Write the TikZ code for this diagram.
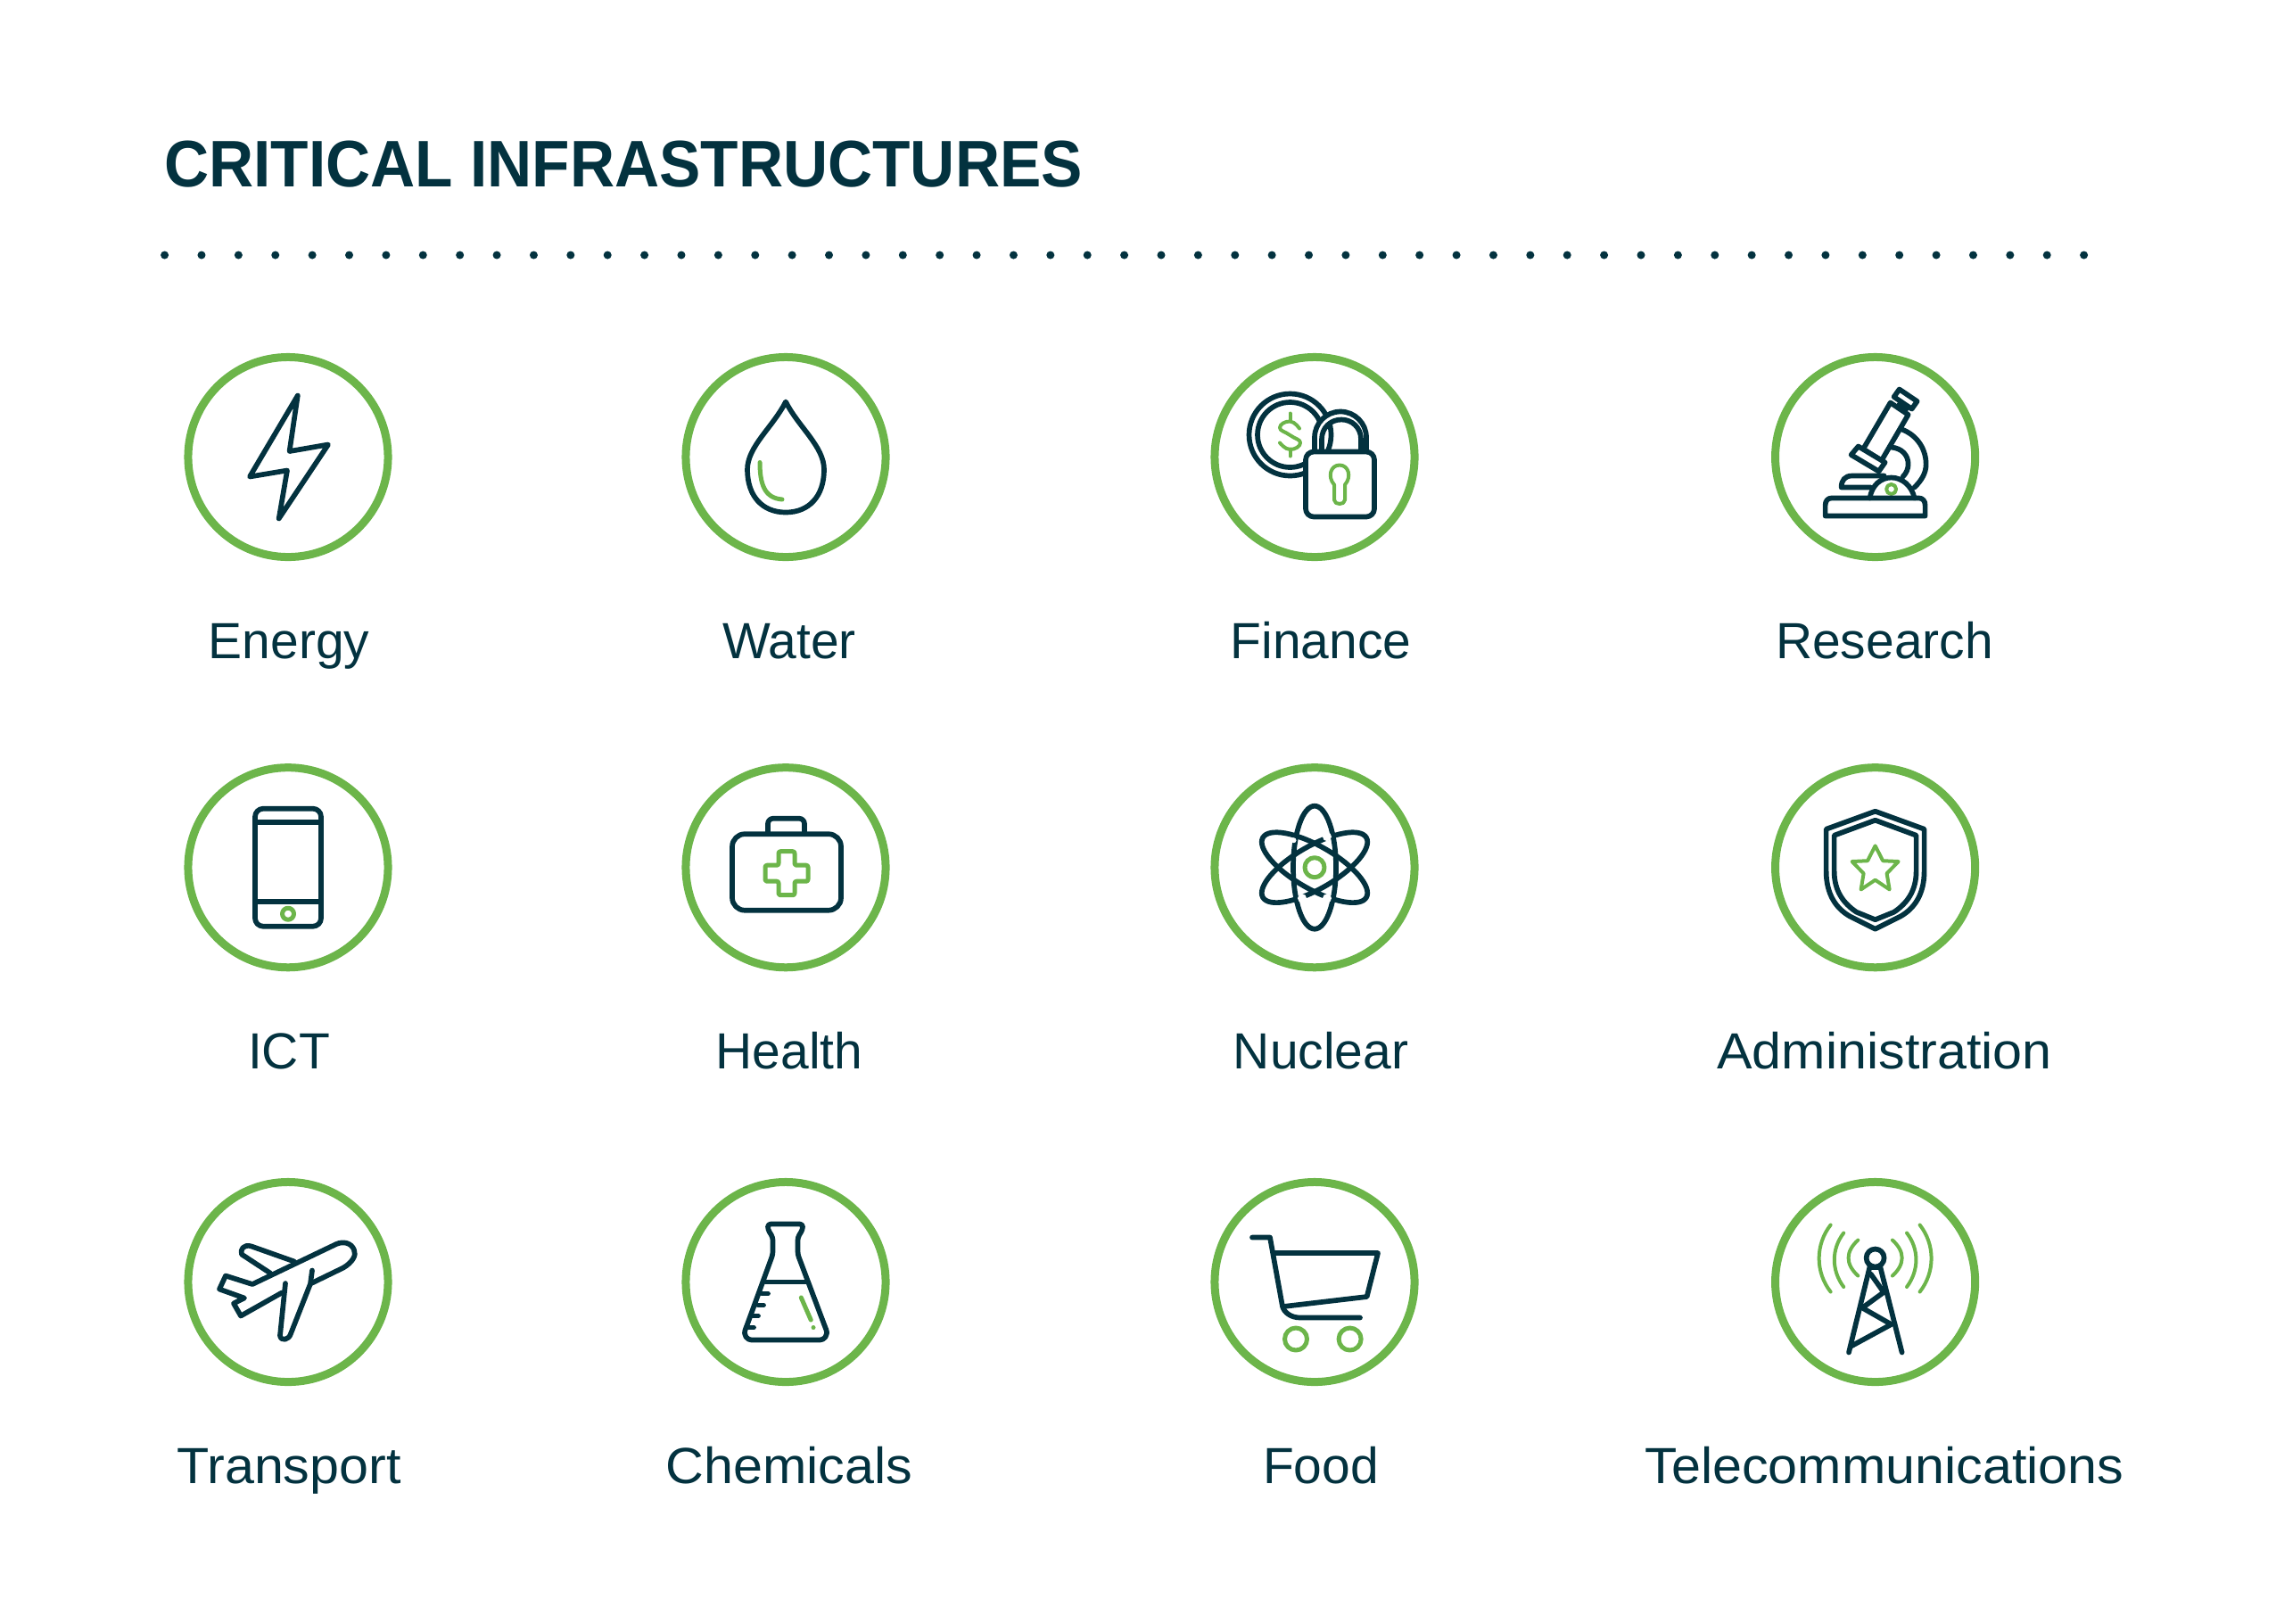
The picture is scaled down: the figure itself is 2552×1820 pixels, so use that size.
\documentclass[tikz,border=0pt]{standalone}
\usepackage{fontspec}
\setmainfont{Liberation Sans}
\newfontfamily\titlefont[FakeStretch=0.94]{Liberation Sans}
\newfontfamily\widefont[FakeStretch=1.04]{Liberation Sans}
\usepackage{tikz}
\definecolor{inkblue}{HTML}{03323F}
\definecolor{leafgreen}{HTML}{6CB54A}
\tikzset{
    ring/.style={draw=leafgreen,circle,line width=0.09cm,minimum size=2.24cm,inner sep=0},
    lab/.style={text=inkblue,anchor=base,inner sep=0,font=\fontsize{16.2pt}{18pt}\selectfont},
    widelab/.style={lab,font=\widefont\fontsize{16.2pt}{18pt}\selectfont},
    ink/.style={draw=inkblue,line width=0.057cm,line join=round,line cap=round},
    leaf/.style={draw=leafgreen,line width=0.05cm,line join=round,line cap=round},
    thinleaf/.style={leaf,line width=0.04cm}
}
\begin{document}
\begin{tikzpicture}[x=0.01cm,y=-0.01cm]
    \useasboundingbox (0,0) rectangle (2552,1820);
    \node[anchor=base west,inner sep=0,text=inkblue,font=\titlefont\bfseries\fontsize{21pt}{24pt}\selectfont] (title) at (183.5,209) {CRITICAL INFRASTRUCTURES};
    \coordinate (dotsL) at (184.6,286);
    \coordinate (dotsR) at (2340,286);
    \draw[inkblue,line width=0.09cm,line cap=round,dash pattern=on 0pt off 0.4136cm] (dotsL) -- (dotsR);

    \node[ring] (energy) at (323,512.5) {};
    \node[ring] (water) at (881,512.5) {};
    \node[ring] (finance) at (1474,512.5) {};
    \node[ring] (research) at (2102.6,512.5) {};
    \node[ring] (ict) at (323,972.7) {};
    \node[ring] (health) at (881,972.7) {};
    \node[ring] (nuclear) at (1474,972.7) {};
    \node[ring] (admin) at (2102.6,972.7) {};
    \node[ring] (transport) at (323,1437.5) {};
    \node[ring] (chemicals) at (881,1437.5) {};
    \node[ring] (food) at (1474,1437.5) {};
    \node[ring] (telecom) at (2102.6,1437.5) {};

    \node[lab] (energylab) at (324,738) {Energy};
    \node[lab] (waterlab) at (885,738) {Water};
    \node[lab] (financelab) at (1481,738) {Finance};
    \node[lab] (researchlab) at (2113,738) {Research};
    \node[lab] (ictlab) at (324,1198) {ICT};
    \node[lab] (healthlab) at (885,1198) {Health};
    \node[lab] (nuclearlab) at (1481,1198) {Nuclear};
    \node[widelab] (adminlab) at (2113,1198) {Administration};
    \node[widelab] (transportlab) at (324,1663) {Transport};
    \node[widelab] (chemicalslab) at (885,1663) {Chemicals};
    \node[lab] (foodlab) at (1481,1663) {Food};
    \node[widelab] (telecomlab) at (2113,1663) {Telecommunications};

    % energy
    \begin{scope}[shift={(energy)}]
        \draw[ink] (10.8,-69) -- (1.6,-6.5) -- (45,-14) -- (-10.3,69) -- (-1,15) -- (-43,22) -- cycle;
    \end{scope}
    % water
    \begin{scope}[shift={(water)}]
        \draw[ink] (0,-62) .. controls (14,-34) and (43,-12) .. (43,14) .. controls (43,44) and (26,62) .. (0,62) .. controls (-26,62) and (-43,44) .. (-43,14) .. controls (-43,-12) and (-14,-34) .. cycle;
        \draw[leaf] (-29,6) .. controls (-29,30) and (-24,46) .. (-4,47.5);
    \end{scope}
    % finance
    \begin{scope}[shift={(finance)}]
        \draw[ink] (-27.5,-25) circle[radius=36.5];
        \draw[ink] (-27.5,-25) circle[radius=46];
        \fill[white] (0,-7) -- (0,-22) .. controls (0,-38) and (13,-51) .. (29,-51) .. controls (45,-51) and (58,-38) .. (58,-22) -- (58,-7) -- cycle;
        \begin{scope}
            \clip (8,-7) -- (8,-20) .. controls (8,-33) and (18,-42) .. (30,-42) .. controls (42,-42) and (52,-33) .. (52,-20) -- (52,-7) -- cycle;
            \draw[ink] (-27.5,-25) circle[radius=46];
        \end{scope}
        \draw[ink] (0,-7) -- (0,-22) .. controls (0,-38) and (13,-51) .. (29,-51) .. controls (45,-51) and (58,-38) .. (58,-22) -- (58,-7);
        \draw[ink] (8,-7) -- (8,-20) .. controls (8,-33) and (18,-42) .. (30,-42) .. controls (42,-42) and (52,-33) .. (52,-20) -- (52,-7);
        \draw[ink,fill=white,rounded corners=2.6pt] (-10,-6) rectangle (67,67);
        \draw[thinleaf] (22,31) .. controls (14,22) and (18,9) .. (28,9) .. controls (38,9) and (42,22) .. (34,31) -- (34,48) .. controls (34,54) and (22,54) .. (22,48) -- cycle;
        \draw[thinleaf] (-27.5,-49) -- (-27.5,-41);
        \draw[thinleaf] (-27.5,-9) -- (-27.5,-1);
        \draw[thinleaf] plot[smooth,tension=0.9] coordinates {(-17,-32) (-27.5,-40) (-39,-33) (-27.5,-24.5) (-16,-16) (-27.5,-8.5) (-39,-16)};
    \end{scope}
    % research
    \begin{scope}[shift={(research)}]
        \draw[ink] (30,-31) .. controls (48,-24) and (57,-8) .. (57,8) .. controls (57,18) and (52,26) .. (44,34);
        \draw[ink] (18,-11) .. controls (30,-10) and (37,-2) .. (37,8) .. controls (37,13) and (35,18) .. (31,22);
        \draw[ink,fill=white] (17,-61) -- (37,-47.5) -- (7,4) -- (-13.5,-9) -- cycle;
        \draw[ink,fill=white] (-19,-12) -- (-27,-2.5) -- (4,16) -- (11,6) -- cycle;
        \draw[ink] (27,-59) -- (35,-54);
        \draw[ink,fill=white] (27,-76) -- (47,-62.5) -- (41,-54) -- (21,-67.5) -- cycle;
        \draw[ink] (10,21) -- (-26,21) .. controls (-34,21) and (-38,26) .. (-38,34) -- (-5,34);
        \draw[ink] (-6,46) .. controls (-4,32) and (6,23) .. (18,23) .. controls (30,23) and (41,32) .. (44,46);
        \draw[thinleaf] (18,36) circle[radius=5.5];
        \draw[ink] (-56,66) -- (-56,54) .. controls (-56,49) and (-53,46) .. (-49,46) -- (49,46) .. controls (53,46) and (56,49) .. (56,54) -- (56,66) -- cycle;
    \end{scope}
    % ict
    \begin{scope}[shift={(ict)}]
        \draw[ink,rounded corners=2.6pt] (-37,-66) rectangle (37,66);
        \draw[ink] (-37,-51) -- (37,-51);
        \draw[ink] (-37,38.5) -- (37,38.5);
        \draw[leaf] (0,52) circle[radius=6.5];
    \end{scope}
    % health
    \begin{scope}[shift={(health)}]
        \draw[ink,rounded corners=4pt] (-60,-37.5) rectangle (62,48);
        \draw[ink,rounded corners=1.7pt] (-20,-37.5) -- (-20,-55) -- (21,-55) -- (21,-37.5);
        \draw[leaf,rounded corners=0.6pt] (-8,-18) -- (10,-18) -- (10,-2.5) -- (25,-2.5) -- (25,15.5) -- (10,15.5) -- (10,31) -- (-8,31) -- (-8,15.5) -- (-23,15.5) -- (-23,-2.5) -- (-8,-2.5) -- cycle;
    \end{scope}
    % nuclear
    \begin{scope}[shift={(nuclear)}]
        \draw[ink] (0,0) ellipse[x radius=24,y radius=69];
        \draw[ink,rotate=30] (0,0) ellipse[x radius=67,y radius=24];
        \draw[ink,rotate=-30] (0,0) ellipse[x radius=67,y radius=24];
        \fill[white] (14,-34.5) circle[radius=5];
        \fill[white] (-14,34.5) circle[radius=5];
        \fill[white] (14,34.5) circle[radius=5];
        \fill[white] (-23.5,-30.5) circle[radius=3];
        \draw[leaf] (0,0) circle[radius=11];
    \end{scope}
    % administration
    \begin{scope}[shift={(admin)}]
        \draw[ink] (0,-63) -- (55,-43) -- (55,4) .. controls (55,30) and (44,46) .. (28,55) -- (0,69) -- (-28,55) .. controls (-44,46) and (-55,30) .. (-55,4) -- (-55,-43) -- cycle;
        \draw[ink] (0,-53) -- (46,-36) -- (46,4) .. controls (46,26) and (36,40) .. (21,50) -- (0,58.5) -- (-21,50) .. controls (-36,40) and (-46,26) .. (-46,4) -- (-46,-36) -- cycle;
        \draw[thinleaf] (0,-24.3) -- (8.6,-7.5) -- (26,-6.7) -- (13,6.7) -- (16,24.7) -- (0,14) -- (-16,24.7) -- (-13,6.7) -- (-26,-6.7) -- (-8.6,-7.5) -- cycle;
    \end{scope}
    % transport
    \begin{scope}[shift={(transport)}]
        \draw[ink] (26,1.5) -- (62,-16) .. controls (72,-22) and (77,-30) .. (74,-36) .. controls (71,-44) and (62,-46) .. (54,-42.5) -- (-40,2.5) -- (-70,-7) -- (-77,8) -- (-49,18) -- (-61,24) -- (-53,38) -- (-7,12);
        \draw[ink] (27,-13) -- (25,2) -- (3,58) .. controls (1,65) and (-8,67) .. (-9,60) -- (-3,1.5);
        \draw[ink] (7,-23) -- (-41,-40) .. controls (-50,-43) and (-54,-36) .. (-52,-31) -- (-20,-10);
    \end{scope}
    % chemicals
    \begin{scope}[shift={(chemicals)}]
        \draw[ink,rounded corners=0.9pt] (-20,-65) -- (19,-65) -- (19,-59) -- (13.5,-50) -- (13.5,-31) -- (44,50) .. controls (48,60) and (43,65) .. (35,65) -- (-35,65) .. controls (-43,65) and (-48,60) .. (-44,50) -- (-14.5,-31) -- (-14.5,-50) -- (-20,-59) -- cycle;
        \draw[ink] (-23,0) -- (23,0);
        \draw[ink] (-27,13) -- (-20,13);
        \draw[ink] (-31,26) -- (-25,26);
        \draw[ink] (-37,38) -- (-31,38);
        \draw[ink] (-42,51) -- (-36,51);
        \draw[leaf] (17.3,17.5) -- (28.2,42.5);
        \fill[leafgreen] (31,51) circle[radius=2.5];
    \end{scope}
    % food
    \begin{scope}[shift={(food)}]
        \draw[ink] (-70,-50) -- (-50,-50) -- (-36,27.5) .. controls (-34,34) and (-27,40) .. (-16,40) -- (51,40);
        \draw[ink] (-45,-32.5) -- (71,-32.5) -- (58.6,16.5) -- (-35,27.5);
        \draw[leaf] (-21,64) circle[radius=12.5];
        \draw[leaf] (39.6,64) circle[radius=12.5];
    \end{scope}
    % telecommunications
    \begin{scope}[shift={(telecom)}]
        \draw[ink] (0,-27) circle[radius=10];
        \draw[ink] (-6,-17.5) -- (-29.6,79);
        \draw[ink] (5.5,-17.5) -- (30,79);
        \draw[ink] (-5,-16) -- (5.5,-16);
        \draw[ink] (-5,-9) -- (9.5,11.5) -- (-14.5,29) -- (18,47.5) -- (-28,72.5);
        \draw[thinleaf] (19.3,-47) .. controls (33.6,-34) and (33.6,-20) .. (19.3,-7);
        \draw[thinleaf] (35.4,-55) .. controls (49.3,-37) and (49.3,-13) .. (35.4,5.5);
        \draw[thinleaf] (50,-64) .. controls (67.3,-42) and (67.3,-11) .. (50,11);
        \draw[thinleaf] (-19.3,-47) .. controls (-33.6,-34) and (-33.6,-20) .. (-19.3,-7);
        \draw[thinleaf] (-35.4,-55) .. controls (-49.3,-37) and (-49.3,-13) .. (-35.4,5.5);
        \draw[thinleaf] (-50,-64) .. controls (-67.3,-42) and (-67.3,-11) .. (-50,11);
    \end{scope}
\end{tikzpicture}
\end{document}
